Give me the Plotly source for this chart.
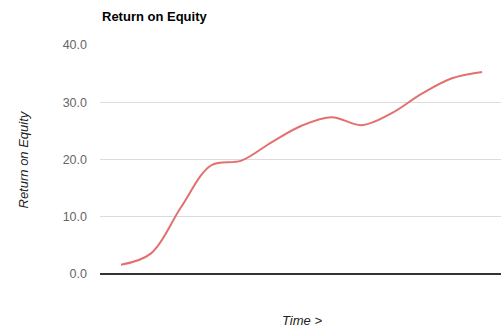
import plotly.graph_objects as go

# Return on equity readings over successive periods
periods = list(range(13))
roe = [1.6, 3.6, 11.7, 19.0, 19.8, 23.0, 25.9, 27.4, 26.0, 28.1, 31.5, 34.2, 35.3]
y_ticks = [0, 10, 20, 30, 40]
y_tick_labels = ["0.0", "10.0", "20.0", "30.0", "40.0"]

W, H = 501, 328
L, R, T, B = 100, 0, 45, 54
plot_w = W - L - R
plot_h = H - T - B

fig = go.Figure()
fig.add_trace(go.Scatter(
    x=periods, y=roe, mode="lines",
    line=dict(color="#e46f6f", width=2, shape="spline", smoothing=1.0),
    hoverinfo="skip", showlegend=False,
))

fig.update_layout(
    width=W, height=H,
    margin=dict(l=L, r=R, t=T, b=B, pad=0),
    paper_bgcolor="white", plot_bgcolor="white",
    font=dict(family="Liberation Sans, Arial, sans-serif", size=13, color="#444"),
    showlegend=False,
    xaxis=dict(
        range=[-0.698, 12.63], showgrid=False, zeroline=False,
        showticklabels=False, ticks="", showline=False, fixedrange=True,
    ),
    yaxis=dict(
        range=[0, 40], tickvals=y_ticks, ticktext=y_tick_labels,
        showgrid=True, gridcolor="#dcdcdc", gridwidth=1,
        zeroline=True, zerolinecolor="#333", zerolinewidth=1.5,
        showline=False, ticks="", ticklabelstandoff=12,
        tickfont=dict(size=12.5, color="#666"), fixedrange=True,
    ),
    annotations=[
        dict(text="<b>Return on Equity</b>", xref="paper", yref="paper",
             x=0, y=1 + (T - 17) / plot_h, xanchor="left", yanchor="middle",
             showarrow=False, font=dict(size=13, color="#000")),
        dict(text="<i>Return on Equity</i>", xref="paper", yref="paper",
             x=(23 - L) / plot_w, y=0.5, xanchor="center", yanchor="middle",
             textangle=-90, showarrow=False, font=dict(size=13, color="#222")),
        dict(text="<i>Time &gt;</i>", xref="paper", yref="paper",
             x=(302 - L) / plot_w, y=-(320 - (H - B)) / plot_h,
             xanchor="center", yanchor="middle",
             showarrow=False, font=dict(size=13, color="#222")),
    ],
)

fig.write_html("out.html")
